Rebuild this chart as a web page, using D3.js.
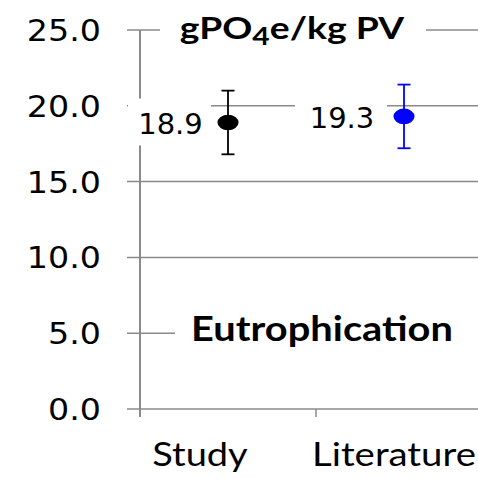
<!DOCTYPE html>
<html>
<head>
<meta charset="utf-8">
<script src="https://cdn.jsdelivr.net/npm/d3@7"></script>
<style>
  html, body { margin: 0; padding: 0; background: #fff; }
  svg { display: block; }
</style>
</head>
<body>
<svg id="chart" width="478" height="479"></svg>
<script>
// ---- data ----
const categories = ["Study", "Literature"];
const means = [18.9, 19.3];
const errors = [2.1, 2.1];
const pointColors = ["#000000", "#0000ff"];
const valueLabels = ["18.9", "19.3"];
const yTickValues = [0, 5, 10, 15, 20, 25];
const yTickLabels = ["0.0", "5.0", "10.0", "15.0", "20.0", "25.0"];
const titleMain = ["gPO", "4", "e/kg PV"];
const panelLabel = "Eutrophication";

// ---- layout ----
const W = 478, H = 479;
const svg = d3.select("#chart");
const y = d3.scaleLinear().domain([0, 25]).range([409, 30]);
const x = d3.scaleBand().domain(categories).range([140, 492]).padding(0);
const gridColor = "#8a8a8a";

function fit(sel, target) {
  const w = sel.node().getBBox().width;
  return target / w;
}

// gridlines
svg.append("g").selectAll("line").data(yTickValues).join("line")
  .attr("x1", 127).attr("x2", W)
  .attr("y1", d => y(d)).attr("y2", d => y(d))
  .attr("stroke", gridColor).attr("stroke-width", 1.5);

// y axis line
svg.append("line")
  .attr("x1", x.range()[0]).attr("x2", x.range()[0])
  .attr("y1", y(25)).attr("y2", y(0) + 8)
  .attr("stroke", gridColor).attr("stroke-width", 2);

// x tick marks at band boundaries
svg.append("g").selectAll("line").data(categories).join("line")
  .attr("x1", d => x(d)).attr("x2", d => x(d))
  .attr("y1", y(0)).attr("y2", y(0) + 8)
  .attr("stroke", gridColor).attr("stroke-width", 1.5);

// y tick labels
svg.append("g").selectAll("text").data(yTickValues).join("text")
  .attr("font-family", "DejaVu Sans, Verdana, sans-serif")
  .attr("font-size", 30)
  .attr("text-anchor", "end")
  .attr("fill", "#000")
  .attr("transform", d => `translate(101,${y(d) + 11}) scale(1.11,1)`)
  .text((d, i) => yTickLabels[i]);

// x category labels
const catOffsets = [-28, -10];
categories.forEach((c, i) => {
  const t = svg.append("text")
    .attr("font-family", "Lato, sans-serif")
    .attr("font-size", 32)
    .attr("text-anchor", "middle")
    .attr("fill", "#000")
    .text(c);
  const sx = fit(t, i === 0 ? 96 : 164);
  t.attr("transform", `translate(${x(c) + x.bandwidth() / 2 + catOffsets[i]},466) scale(${sx},1)`);
});

// title with white box
svg.append("rect").attr("x", 160).attr("y", 12).attr("width", 266).attr("height", 36).attr("fill", "#fff");
const title = svg.append("text")
  .attr("font-family", "Lato, sans-serif")
  .attr("font-weight", "bold")
  .attr("font-size", 31)
  .attr("text-anchor", "middle")
  .attr("fill", "#000");
title.append("tspan").text(titleMain[0]);
title.append("tspan").attr("font-size", 25).attr("dy", 6).text(titleMain[1]);
title.append("tspan").attr("dy", -6).text(titleMain[2]);
const tsx = fit(title, 225);
title.attr("transform", `translate(292,39) scale(${tsx},1)`);

// panel label with white box
svg.append("rect").attr("x", 175).attr("y", 312).attr("width", W - 175).attr("height", 40).attr("fill", "#fff");
const pl = svg.append("text")
  .attr("font-family", "Lato, sans-serif")
  .attr("font-weight", "bold")
  .attr("font-size", 34)
  .attr("text-anchor", "middle")
  .attr("fill", "#000")
  .text(panelLabel);
const psx = fit(pl, 262);
pl.attr("transform", `translate(322,341) scale(${psx},1)`);

// value labels with white boxes
const boxW = [83, 92];
categories.forEach((c, i) => {
  const cx = x(c) + x.bandwidth() / 2;
  const cy = y(means[i]);
  const right = cx - 17;
  svg.append("rect")
    .attr("x", right - boxW[i]).attr("y", cy - 24)
    .attr("width", boxW[i]).attr("height", 47)
    .attr("fill", "#fff");
  svg.append("text")
    .attr("font-family", "DejaVu Sans, Verdana, sans-serif")
    .attr("font-size", 29)
    .attr("text-anchor", "middle")
    .attr("fill", "#000")
    .attr("x", right - boxW[i] / 2 + 1)
    .attr("y", cy + 12)
    .text(valueLabels[i]);
});

// error bars and points
categories.forEach((c, i) => {
  const cx = x(c) + x.bandwidth() / 2;
  const g = svg.append("g").attr("stroke", pointColors[i]).attr("stroke-width", 1.8);
  g.append("line").attr("x1", cx).attr("x2", cx)
    .attr("y1", y(means[i] + errors[i])).attr("y2", y(means[i] - errors[i]));
  [means[i] + errors[i], means[i] - errors[i]].forEach(v => {
    g.append("line").attr("x1", cx - 6.5).attr("x2", cx + 6.5)
      .attr("y1", y(v)).attr("y2", y(v));
  });
  svg.append("ellipse")
    .attr("cx", cx).attr("cy", y(means[i]))
    .attr("rx", 10.5).attr("ry", 7.8)
    .attr("fill", pointColors[i]);
});
</script>
</body>
</html>
